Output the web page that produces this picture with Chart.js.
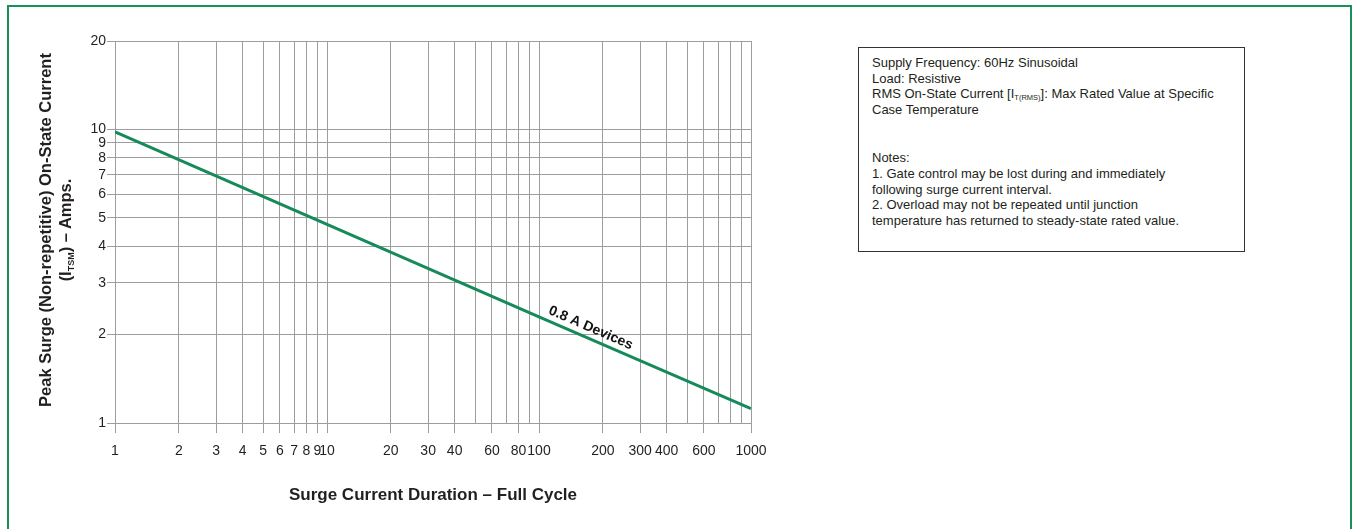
<!DOCTYPE html>
<html>
<head>
<meta charset="utf-8">
<script src="https://cdn.jsdelivr.net/npm/chart.js@4/dist/chart.umd.min.js"></script>
<style>
  body { margin: 0; background: #fff; font-family: "Liberation Sans", Arial, sans-serif; }
  #frame { position: absolute; left: 7px; top: 5px; width: 1341px; height: 560px; border: 2px solid #1b8f5a; }
  #wrap { position: absolute; left: 0; top: 0; width: 800px; height: 529px; }
  #ytitle { position: absolute; left: 55px; top: 230px; width: 440px; transform: translate(-50%, -50%) rotate(-90deg);
    text-align: center; font-weight: bold; font-size: 16.5px; line-height: 20px; color: #231f20; }
  #ytitle sub { font-size: 9px; vertical-align: -3px; line-height: 0; }
  #notes { position: absolute; left: 858px; top: 47px; width: 362px; height: 177px; padding: 7px 10px 19px 13px;
    border: 1px solid #333; font-size: 13px; line-height: 15.6px; color: #231f20; white-space: nowrap; }
  #notes p { margin: 0; }
  #notes p + p { margin-top: 33px; }
  #notes sub { font-size: 7.5px; vertical-align: -2px; line-height: 0; }
</style>
</head>
<body>
<div id="frame"></div>
<div id="wrap"><canvas id="grafico"></canvas></div>
<div id="ytitle">Peak Surge (Non-repetitive) On-State Current<br>(I<sub>TSM</sub>) – Amps.</div>
<div id="notes">
  <p>Supply Frequency: 60Hz Sinusoidal<br>Load: Resistive<br>RMS On-State Current [I<sub>T(RMS)</sub>]: Max Rated Value at Specific<br>Case Temperature</p>
  <p>Notes:<br>1. Gate control may be lost during and immediately<br>following surge current interval.<br>2. Overload may not be repeated until junction<br>temperature has returned to steady-state rated value.</p>
</div>
<script>
// duracao (ciclos) x corrente de pico
const duracao = [1, 10, 100, 1000]
const corrente = [9.8, 4.75, 2.3, 1.12]
const nomeSerie = "0.8 A Devices"

const gradeX = [1,2,3,4,5,6,7,8,9,10,20,30,40,50,60,70,80,90,100,200,300,400,500,600,700,800,900,1000]
const rotulosX = [1,2,3,4,5,6,7,8,9,10,20,30,40,60,80,100,200,300,400,600,1000]
const gradeY = [1,2,3,4,5,6,7,8,9,10,20]

const corGrade = '#9d9d9d'
const corTexto = '#231f20'
const corLinha = '#168a58'

// texto "0.8 A Devices" em cima da linha
const rotuloLinha = {
    id: 'rotuloLinha',
    afterDatasetsDraw(chart) {
        const x = chart.scales.x, y = chart.scales.y
        const x0 = x.getPixelForValue(duracao[0]), y0 = y.getPixelForValue(corrente[0])
        const x1 = x.getPixelForValue(duracao[duracao.length-1]), y1 = y.getPixelForValue(corrente[corrente.length-1])
        const ang = Math.atan2(y1 - y0, x1 - x0)
        const px = x.getPixelForValue(168)
        const py = y0 + (px - x0) * Math.tan(ang)
        const ctx = chart.ctx
        ctx.save()
        ctx.translate(px, py)
        ctx.rotate(ang)
        ctx.font = 'bold 14px "Liberation Sans", Arial'
        ctx.fillStyle = '#111'
        ctx.textAlign = 'center'
        ctx.textBaseline = 'bottom'
        ctx.fillText(nomeSerie, 0, -3)
        ctx.restore()
    }
}

const ctx = document.getElementById('grafico')
let grafico = new Chart(ctx, {
    type: 'line',
    data: {
        datasets: [{
            label: nomeSerie,
            data: duracao.map((d, i) => ({x: d, y: corrente[i]})),
            borderColor: corLinha,
            borderWidth: 3,
            pointRadius: 0,
            fill: false,
            tension: 0
        }]
    },
    options: {
        responsive: true,
        maintainAspectRatio: false,
        animation: false,
        layout: { padding: { top: 41, right: 49, bottom: 0, left: 0 } },
        plugins: { legend: { display: false }, tooltip: { enabled: false } },
        scales: {
            x: {
                type: 'logarithmic',
                min: 1, max: 1000,
                afterBuildTicks: (s) => { s.ticks = gradeX.map(v => ({value: v})) },
                afterFit: (s) => { s.height = 106 },
                grid: {
                    color: corGrade,
                    tickLength: 10,
                    tickColor: (c) => (c.tick && rotulosX.includes(c.tick.value)) ? corGrade : 'rgba(0,0,0,0)'
                },
                border: { color: corGrade },
                ticks: {
                    autoSkip: false, maxRotation: 0, padding: 10,
                    color: corTexto,
                    font: { family: '"Liberation Sans", Arial', size: 14 },
                    callback: (v) => rotulosX.includes(v) ? String(v) : ''
                },
                title: {
                    display: true,
                    text: 'Surge Current Duration – Full Cycle',
                    color: corTexto,
                    font: { family: '"Liberation Sans", Arial', size: 17, weight: 'bold' },
                    padding: { top: 0, bottom: 23 }
                }
            },
            y: {
                type: 'logarithmic',
                min: 1, max: 20,
                afterBuildTicks: (s) => { s.ticks = gradeY.map(v => ({value: v})) },
                afterFit: (s) => { s.width = 115 },
                grid: { color: corGrade, tickLength: 8, tickColor: corGrade },
                border: { color: corGrade },
                ticks: {
                    autoSkip: false, padding: 1,
                    color: corTexto,
                    font: { family: '"Liberation Sans", Arial', size: 14 },
                    callback: (v) => String(v)
                }
            }
        }
    },
    plugins: [rotuloLinha]
})
</script>
</body>
</html>
